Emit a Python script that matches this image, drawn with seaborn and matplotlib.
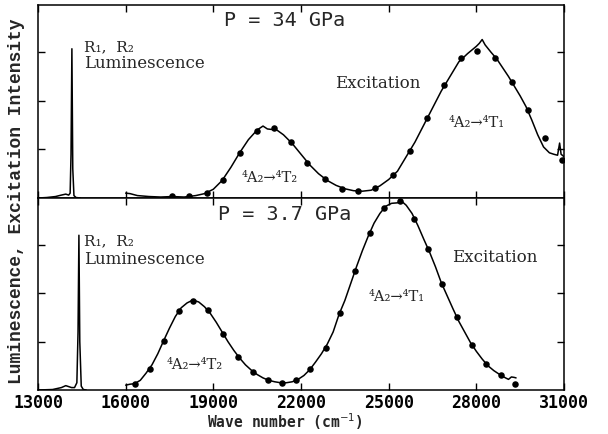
import matplotlib
matplotlib.use("Agg")
import matplotlib.pyplot as plt
import seaborn as sns
import pandas as pd

sns.set_style("ticks")
plt.rcParams['font.family'] = ['DejaVu Sans Mono', 'DejaVu Sans']

# ---------------- data: P = 34 GPa (upper panel) ----------------
lum34_x = [13000, 13300, 13600, 13800, 13950, 14050, 14100, 14130, 14160, 14190, 14230, 14300, 14450]
lum34_y = [0.0, 0.01, 0.03, 0.06, 0.08, 0.06, 0.10, 0.9, 3.07, 0.6, 0.05, 0.01, 0.0]

exc34_x = [16000, 16150, 16400, 16800, 17200, 17600, 18000, 18400, 18700, 19000, 19300, 19600,
           19900, 20200, 20500, 20700, 20850, 21000, 21100, 21400, 21700, 22000, 22300, 22600,
           22900, 23200, 23500, 23800, 24100, 24400, 24700, 25000, 25300, 25600, 25900, 26200,
           26500, 26800, 27100, 27400, 27700, 28000, 28100, 28200, 28300, 28500, 28700, 28900,
           29100, 29300, 29500, 29700, 29900, 30100, 30300, 30500, 30650, 30780, 30850, 30900, 31000]
exc34_y = [0.10, 0.09, 0.05, 0.03, 0.02, 0.03, 0.02, 0.05, 0.09, 0.18, 0.36, 0.63,
           0.93, 1.20, 1.40, 1.48, 1.42, 1.41, 1.43, 1.30, 1.12, 0.90, 0.68, 0.50,
           0.36, 0.26, 0.19, 0.15, 0.14, 0.16, 0.25, 0.38, 0.55, 0.85, 1.15, 1.50,
           1.85, 2.20, 2.50, 2.80, 2.97, 3.12, 3.18, 3.26, 3.15, 3.00, 2.86, 2.68,
           2.50, 2.30, 2.10, 1.88, 1.60, 1.30, 1.05, 0.93, 0.90, 0.88, 1.13, 0.90, 0.85]

dots34_x = [17586, 18167, 18783, 19331, 19912, 20494, 21076, 21658, 22205, 22821, 23403, 23950,
            24532, 25148, 25730, 26312, 26893, 27475, 28023, 28639, 29220, 29768, 30350, 30931]
dots34_y = [0.04, 0.04, 0.10, 0.37, 0.93, 1.38, 1.44, 1.15, 0.72, 0.39, 0.19, 0.14,
            0.21, 0.47, 0.97, 1.65, 2.33, 2.87, 3.03, 2.87, 2.39, 1.81, 1.24, 0.78]

# ---------------- data: P = 3.7 GPa (lower panel) ----------------
lum37_x = [13000, 13500, 13800, 13950, 14050, 14150, 14250, 14330, 14370, 14400, 14430, 14480, 14550, 14650]
lum37_y = [0.0, 0.01, 0.05, 0.09, 0.07, 0.05, 0.05, 0.15, 1.2, 3.2, 1.0, 0.08, 0.01, 0.0]

exc37_x = [16000, 16150, 16300, 16500, 16700, 16900, 17100, 17300, 17500, 17700, 17900, 18100,
           18300, 18500, 18700, 18900, 19100, 19300, 19500, 19700, 19900, 20100, 20300, 20500,
           20700, 20900, 21100, 21300, 21500, 21700, 21900, 22100, 22300, 22500, 22700, 22900,
           23100, 23300, 23500, 23700, 23900, 24100, 24300, 24500, 24700, 24900, 25100, 25300,
           25450, 25600, 25800, 26000, 26200, 26400, 26600, 26800, 27000, 27200, 27400, 27600,
           27800, 28000, 28200, 28400, 28600, 28800, 29000, 29100, 29200, 29300, 29360]
exc37_y = [0.10, 0.12, 0.13, 0.20, 0.35, 0.52, 0.75, 1.02, 1.28, 1.52, 1.70, 1.80,
           1.86, 1.82, 1.72, 1.58, 1.40, 1.20, 1.00, 0.82, 0.66, 0.52, 0.41, 0.32,
           0.25, 0.20, 0.17, 0.15, 0.15, 0.17, 0.22, 0.30, 0.42, 0.58, 0.75, 0.95,
           1.20, 1.56, 1.85, 2.20, 2.55, 2.88, 3.18, 3.45, 3.65, 3.80, 3.86, 3.87,
           3.90, 3.82, 3.65, 3.40, 3.12, 2.85, 2.55, 2.22, 1.95, 1.68, 1.42, 1.20,
           0.98, 0.80, 0.64, 0.50, 0.40, 0.32, 0.25, 0.22, 0.27, 0.26, 0.25]

dots37_x = [16319, 16833, 17312, 17825, 18304, 18817, 19331, 19844, 20357, 20871, 21350, 21829,
            22308, 22855, 23334, 23848, 24361, 24840, 25388, 25867, 26346, 26825, 27338, 27851,
            28331, 28844, 29323]
dots37_y = [0.125, 0.44, 1.02, 1.63, 1.85, 1.65, 1.15, 0.69, 0.375, 0.21, 0.146, 0.21,
            0.44, 0.875, 1.60, 2.46, 3.25, 3.77, 3.90, 3.54, 2.92, 2.19, 1.50, 0.94,
            0.54, 0.31, 0.125]

xticks = [13000, 16000, 19000, 22000, 25000, 28000, 31000]
xtick_labels = ["13000", "16000", "19000", "22000", "25000", "28000", "31000"]

# ---------------- figure ----------------
fig = plt.figure(figsize=(6.08, 4.34), dpi=100)
L, R = 38 / 608, 564 / 608
ax_top = fig.add_axes([L, 1 - 198 / 434, R - L, (198 - 5) / 434])
ax_bot = fig.add_axes([L, 1 - 390 / 434, R - L, (390 - 198) / 434])

lw = 1.1
mono = ['Liberation Mono', 'DejaVu Sans Mono']
serif = ['DejaVu Serif', 'DejaVu Sans']

def panel(ax, lx, ly, ex, ey, dx, dy):
    sns.lineplot(x=lx, y=ly, ax=ax, color="black", lw=lw, sort=False, estimator=None)
    sns.lineplot(x=ex, y=ey, ax=ax, color="black", lw=lw, sort=False, estimator=None)
    sns.scatterplot(x=dx, y=dy, ax=ax, color="black", s=22, edgecolor="black", linewidth=0, zorder=3)
    ax.set_xlim(13000, 31000)
    ax.set_ylim(0, 3.97)
    ax.set_xticks(xticks)
    ax.set_yticks([1, 2, 3])
    ax.set_yticklabels([])
    ax.tick_params(direction="in", length=5, width=1, top=True, right=True, colors="black")
    for s in ax.spines.values():
        s.set_linewidth(1.1)
        s.set_color("black")
    ax.set_xlabel("")
    ax.set_ylabel("")

panel(ax_top, lum34_x, lum34_y, exc34_x, exc34_y, dots34_x, dots34_y)
panel(ax_bot, lum37_x, lum37_y, exc37_x, exc37_y, dots37_x, dots37_y)

ax_top.set_xticklabels([])
ax_bot.set_xticklabels(xtick_labels, fontsize=12, fontweight="bold")
ax_bot.tick_params(axis="x", pad=3)

def ftext(px, py, s, **kw):
    fig.text(px / 608, 1 - py / 434, s, **kw)

# upper panel texts
ftext(285, 20, "P = 34 GPa", fontsize=14.5, ha="center", va="center")
ftext(84, 47, "R\u2081,  R\u2082", fontsize=11, ha="left", va="center", family=serif)
ftext(84, 64, "Luminescence", fontsize=12, ha="left", va="center", family=serif)
ftext(335, 84, "Excitation", fontsize=12, ha="left", va="center", family=serif)
ftext(242, 178, "\u2074A\u2082\u2192\u2074T\u2082", fontsize=10.5, ha="left", va="center", family=serif)
ftext(449, 123, "\u2074A\u2082\u2192\u2074T\u2081", fontsize=10.5, ha="left", va="center", family=serif)

# lower panel texts
ftext(285, 215, "P = 3.7 GPa", fontsize=14.5, ha="center", va="center")
ftext(84, 241, "R\u2081,  R\u2082", fontsize=11, ha="left", va="center", family=serif)
ftext(84, 259, "Luminescence", fontsize=12, ha="left", va="center", family=serif)
ftext(452, 258, "Excitation", fontsize=12, ha="left", va="center", family=serif)
ftext(369, 297, "\u2074A\u2082\u2192\u2074T\u2081", fontsize=10.5, ha="left", va="center", family=serif)
ftext(167, 365, "\u2074A\u2082\u2192\u2074T\u2082", fontsize=10.5, ha="left", va="center", family=serif)

# axis labels
ftext(285, 422, "Wave number (cm$^{-1}$)", fontsize=10.5, fontweight="bold", ha="center", va="center")
ftext(17, 201, "Luminescence, Excitation Intensity", fontsize=13, rotation=90,
      ha="center", va="center", family=mono, fontweight="bold")

fig.savefig("out.png", dpi=100)
